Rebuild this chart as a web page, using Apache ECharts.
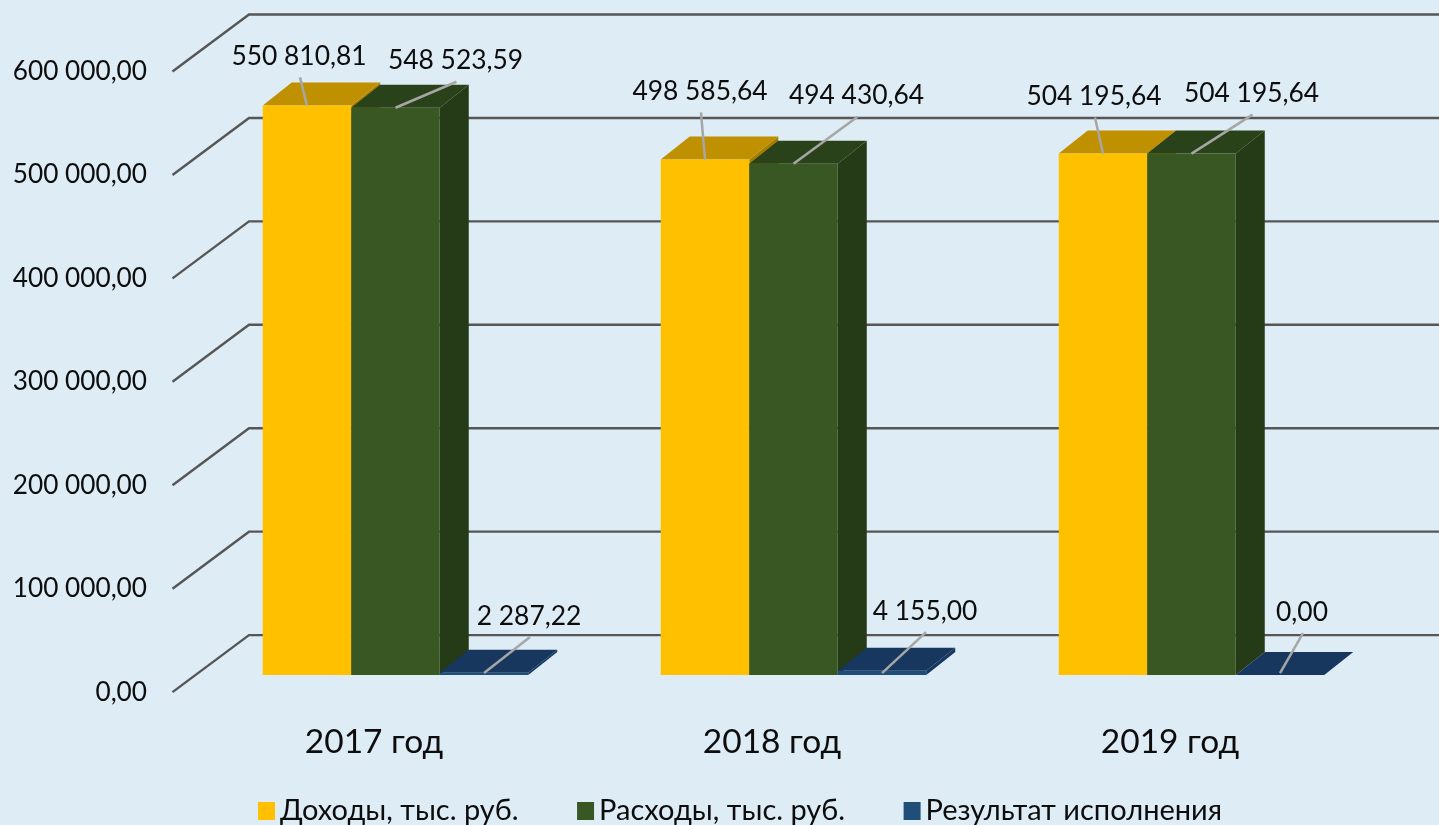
<!DOCTYPE html>
<html>
<head>
<meta charset="utf-8">
<title>Исполнение бюджета</title>
<style>
  html, body { margin: 0; padding: 0; background: #deecf6; }
  #chart { width: 1439px; height: 825px; }
</style>
<script src="https://cdn.jsdelivr.net/npm/echarts@6/dist/echarts.min.js"></script>
</head>
<body>
<div id="chart"></div>
<script>
var years = ['2017 год', '2018 год', '2019 год'];
var yTicks = [0, 100000, 200000, 300000, 400000, 500000, 600000];
var income = [550810.81, 498585.64, 504195.64];
var expense = [548523.59, 494430.64, 504195.64];
var result = [2287.22, 4155.00, 0.00];

// where each leader line ends, measured from the middle of the bar's top edge
var leaderEnds = [
    [[-7, -28], [-4, -47], [-8, -36]],
    [[61, -26], [64, -47], [61, -39]],
    [[46, -36], [44, -41], [23, -40]]
];
var faceColors = [
    { front: '#ffc000', top: '#bf9000', side: '#a67d00' },
    { front: '#385723', top: '#2a421a', side: '#253a17' },
    { front: '#1f4e79', top: '#17375e', side: '#17375e' }
];

var depthX = 29, depthY = 23;   // глубина столбика
var floorX = 21.5, floorY = 17; // столбики стоят глубже передней оси
var wallX = 76.5, wallY = 57;   // задняя стенка
var fontName = 'Lato, "Noto Sans", sans-serif';

function money(v) {
    var parts = v.toFixed(2).split('.');
    return parts[0].replace(/\B(?=(\d{3})+$)/g, '\u00a0') + ',' + parts[1];
}

function renderGrid(params, api) {
    var y = api.coord([0, api.value(0)])[1];
    var x0 = params.coordSys.x - 2.5;
    return {
        type: 'polyline',
        silent: true,
        shape: { points: [[x0, y], [x0 + wallX, y - wallY], [api.getWidth(), y - wallY]] },
        style: { stroke: '#565656', lineWidth: 2.4, fill: null }
    };
}

function makeRender(s) {
    return function (params, api) {
        var c = faceColors[s];
        var idx = api.value(0);
        var val = api.value(1);
        var w = api.size([1, 0])[0] * 0.2224;
        var pt = api.coord([idx, val]);
        var base = api.coord([idx, 0]);
        var x = pt[0] + floorX + (s - 1.5) * w;
        var top = pt[1] - floorY;
        var bottom = base[1] - floorY;
        var end = leaderEnds[s][idx];
        var mx = x + w / 2;
        var my = top;
        if (s == 2) { // низкий столбик: линия идёт от нижней части верхней грани
            my = bottom - 2;
        }
        return {
            type: 'group',
            children: [
                { type: 'polygon', shape: { points: [[x + w, top], [x + w + depthX, top - depthY], [x + w + depthX, bottom - depthY], [x + w, bottom]] }, style: { fill: c.side } },
                { type: 'polygon', shape: { points: [[x, top], [x + depthX, top - depthY], [x + w + depthX, top - depthY], [x + w, top]] }, style: { fill: c.top } },
                { type: 'rect', shape: { x: x, y: top, width: w, height: bottom - top }, style: { fill: c.front } },
                { type: 'line', shape: { x1: mx, y1: my, x2: mx + end[0], y2: my + end[1] }, style: { stroke: '#a6a6a6', lineWidth: 2.5 } },
                {
                    type: 'text',
                    style: {
                        text: money(val),
                        x: mx + end[0] - 1,
                        y: my + end[1] - 21,
                        align: 'center',
                        verticalAlign: 'middle',
                        textAlign: 'center',
                        textVerticalAlign: 'middle',
                        font: '26.4px ' + fontName,
                        fill: '#0d0d0d'
                    }
                }
            ]
        };
    };
}

function pairs(values) {
    return values.map(function (v, i) { return [i, v]; });
}

var chart = echarts.init(document.getElementById('chart'));
var option = {
    animation: false,
    backgroundColor: '#deecf6',
    textStyle: { fontFamily: fontName },
    grid: { left: 175, top: 71.5, width: 1194, height: 620.6 },
    legend: {
        left: 253,
        top: 791.5,
        icon: 'rect',
        itemWidth: 17,
        itemHeight: 18,
        itemGap: 58.5,
        textStyle: { fontSize: 29, color: '#0d0d0d', fontFamily: fontName },
        data: ['Доходы, тыс. руб.', 'Расходы, тыс. руб.', 'Результат исполнения']
    },
    xAxis: {
        type: 'category',
        data: years,
        axisLine: { show: false },
        axisTick: { show: false },
        axisLabel: { margin: 33, fontSize: 33.5, color: '#0d0d0d', fontFamily: fontName }
    },
    yAxis: {
        type: 'value',
        min: 0,
        max: 600000,
        interval: 100000,
        axisLine: { show: false },
        axisTick: { show: false },
        splitLine: { show: false },
        axisLabel: {
            margin: 28,
            fontSize: 26.2,
            color: '#0d0d0d',
            fontFamily: fontName,
            padding: [0, 0, 2, 0],
            formatter: function (v) { return money(v); }
        }
    },
    series: [
        { type: 'custom', name: 'grid', renderItem: renderGrid, data: yTicks, encode: { y: 0 }, clip: false, z: 1, silent: true },
        { type: 'custom', name: 'Доходы, тыс. руб.', renderItem: makeRender(0), data: pairs(income), itemStyle: { color: faceColors[0].front }, encode: { x: 0, y: 1 }, clip: false, z: 2 },
        { type: 'custom', name: 'Расходы, тыс. руб.', renderItem: makeRender(1), data: pairs(expense), itemStyle: { color: faceColors[1].front }, encode: { x: 0, y: 1 }, clip: false, z: 3 },
        { type: 'custom', name: 'Результат исполнения', renderItem: makeRender(2), data: pairs(result), itemStyle: { color: faceColors[2].front }, encode: { x: 0, y: 1 }, clip: false, z: 4 }
    ]
};
chart.setOption(option);
</script>
</body>
</html>
